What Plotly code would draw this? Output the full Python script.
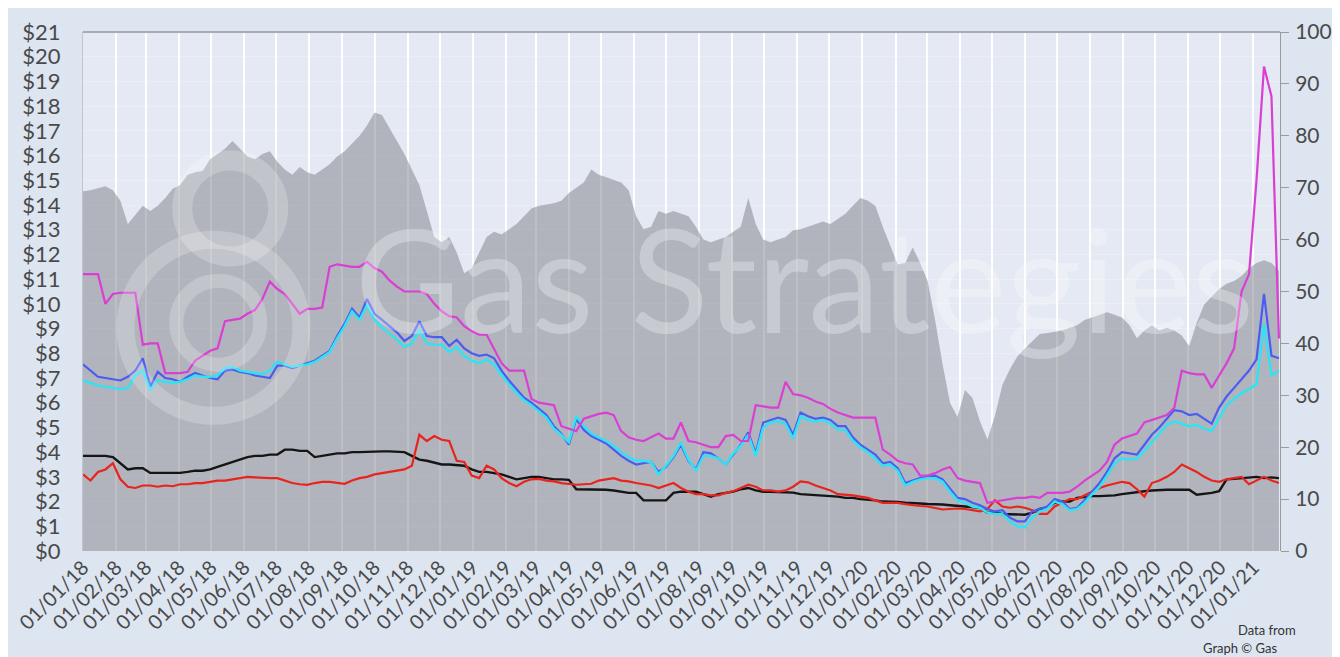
import pandas as pd
import plotly.graph_objects as go

# weekly observation dates (Mondays) from 1 Jan 2018
dates = pd.date_range("2018-01-01", periods=161, freq="7D")

# grey area - oil price, right axis
oil_price = [
    69.3, 69.5, 69.9, 70.3, 69.5, 67.5, 63.0, 64.8, 66.5, 65.5,
    66.5, 68.0, 69.8, 70.5, 72.5, 73.0, 73.2, 75.5, 76.5, 77.5,
    79.0, 77.5, 76.0, 75.5, 76.5, 77.0, 75.0, 73.5, 72.5, 74.0,
    73.0, 72.5, 73.5, 74.5, 76.0, 77.0, 78.5, 80.0, 82.0, 84.5,
    84.0, 81.5, 79.0, 76.5, 73.5, 70.5, 65.5, 60.5, 59.5, 60.5,
    57.5, 53.5, 54.5, 57.5, 60.5, 61.5, 61.0, 62.0, 63.0, 64.5,
    66.0, 66.5, 66.7, 67.0, 67.5, 69.0, 70.0, 71.0, 73.5, 72.5,
    72.0, 71.5, 71.0, 69.5, 64.5, 62.0, 62.5, 65.5, 65.0, 65.5,
    65.0, 64.5, 62.5, 60.0, 59.5, 60.0, 60.5, 61.5, 62.5, 68.0,
    63.0, 60.0, 59.5, 60.0, 60.5, 61.8, 62.0, 62.5, 63.0, 63.5,
    63.0, 64.0, 65.0, 66.5, 68.0, 67.5, 66.5, 62.5, 59.0, 55.2,
    55.5, 58.5, 55.5, 52.0, 44.5, 36.0, 28.5, 25.8, 31.0, 29.5,
    25.0, 21.5, 26.0, 32.0, 35.0, 37.5, 39.0, 40.5, 41.8, 42.0,
    42.3, 42.5, 43.0, 43.5, 44.5, 45.0, 45.5, 46.0, 45.5, 45.0,
    43.5, 41.0, 42.5, 43.5, 42.5, 43.0, 42.5, 41.5, 39.5, 44.0,
    47.5, 49.0, 50.5, 51.5, 52.0, 53.0, 54.5, 55.5, 56.0, 55.5,
    54.0,
]

magenta_series = [
    11.2, 11.2, 11.2, 10.0, 10.4, 10.45, 10.45, 10.45, 8.35, 8.4,
    8.4, 7.2, 7.2, 7.2, 7.25, 7.7, 7.9, 8.1, 8.2, 9.3,
    9.35, 9.4, 9.6, 9.75, 10.2, 10.9, 10.6, 10.4, 10.0, 9.6,
    9.8, 9.8, 9.85, 11.5, 11.6, 11.55, 11.5, 11.5, 11.7, 11.45,
    11.3, 10.95, 10.7, 10.5, 10.5, 10.5, 10.4, 10.0, 9.7, 9.5,
    9.45, 9.1, 8.9, 8.75, 8.75, 8.2, 7.6, 7.3, 7.3, 7.3,
    6.15, 6.0, 5.95, 5.9, 5.05, 4.95, 4.85, 5.35, 5.45, 5.55,
    5.6, 5.5, 4.85, 4.6, 4.5, 4.45, 4.6, 4.75, 4.55, 4.55,
    5.2, 4.45, 4.4, 4.3, 4.2, 4.2, 4.65, 4.7, 4.45, 4.45,
    5.9, 5.85, 5.8, 5.8, 6.85, 6.35, 6.3, 6.2, 6.05, 5.95,
    5.75, 5.6, 5.5, 5.4, 5.4, 5.4, 5.4, 4.1, 3.9, 3.65,
    3.55, 3.5, 3.05, 3.05, 3.15, 3.3, 3.4, 2.95, 2.85, 2.8,
    2.75, 1.95, 2.0, 2.05, 2.1, 2.15, 2.15, 2.2, 2.15, 2.35,
    2.35, 2.35, 2.4, 2.6, 2.85, 3.05, 3.25, 3.6, 4.3, 4.55,
    4.65, 4.75, 5.2, 5.3, 5.4, 5.5, 5.8, 7.3, 7.2, 7.15,
    7.15, 6.6, 7.1, 7.6, 8.2, 10.5, 11.2, 15.0, 19.6, 18.4,
    8.6,
]

blue_series = [
    7.55, 7.3, 7.05, 7.0, 6.95, 6.9, 7.05, 7.3, 7.8, 6.65,
    7.25, 7.0, 6.95, 6.85, 7.05, 7.2, 7.1, 7.0, 6.95, 7.3,
    7.35, 7.25, 7.2, 7.1, 7.05, 7.0, 7.5, 7.5, 7.4, 7.5,
    7.6, 7.7, 7.9, 8.1, 8.7, 9.2, 9.8, 9.45, 10.2, 9.6,
    9.35, 9.1, 8.85, 8.5, 8.7, 9.3, 8.7, 8.65, 8.65, 8.3,
    8.55, 8.2, 8.0, 7.9, 7.95, 7.8, 7.3, 6.9, 6.55, 6.2,
    6.0, 5.75, 5.5, 5.05, 4.75, 4.3, 5.35, 4.9, 4.65, 4.5,
    4.35, 4.1, 3.85, 3.65, 3.5, 3.55, 3.6, 3.2, 3.4, 3.8,
    4.3, 3.65, 3.3, 4.0, 3.95, 3.75, 3.5, 3.9, 4.3, 4.8,
    3.95, 5.2, 5.3, 5.4, 5.3, 4.7, 5.6, 5.45, 5.35, 5.4,
    5.3, 5.05, 5.05, 4.6, 4.3, 4.1, 3.9, 3.55, 3.6, 3.35,
    2.75, 2.85, 2.95, 3.0, 3.05, 2.9, 2.5, 2.15, 2.1, 1.95,
    1.85, 1.7, 1.6, 1.65, 1.35, 1.2, 1.2, 1.6, 1.7, 1.8,
    2.1, 2.0, 1.7, 1.75, 2.05, 2.4, 2.75, 3.2, 3.75, 4.0,
    3.95, 3.9, 4.3, 4.7, 5.0, 5.35, 5.7, 5.65, 5.5, 5.55,
    5.35, 5.15, 5.8, 6.25, 6.6, 6.95, 7.3, 7.75, 10.4, 7.9,
    7.8,
]

cyan_series = [
    6.9, 6.8, 6.7, 6.65, 6.6, 6.55, 6.6, 7.1, 7.3, 6.5,
    6.9, 6.85, 6.8, 6.85, 6.95, 7.1, 7.05, 7.05, 7.1, 7.4,
    7.45, 7.3, 7.25, 7.2, 7.15, 7.3, 7.65, 7.55, 7.45, 7.5,
    7.55, 7.65, 7.85, 8.05, 8.6, 9.1, 9.7, 9.35, 9.95, 9.35,
    9.05, 8.8, 8.55, 8.25, 8.4, 8.95, 8.4, 8.35, 8.35, 8.05,
    8.25, 7.9, 7.7, 7.6, 7.75, 7.55, 7.1, 6.75, 6.4, 6.1,
    5.9, 5.65, 5.4, 4.95, 4.7, 4.4, 5.45, 5.05, 4.75, 4.6,
    4.45, 4.25, 4.0, 3.8, 3.65, 3.65, 3.6, 3.1, 3.45, 3.85,
    4.4, 3.7, 3.25, 3.85, 3.85, 3.75, 3.5, 3.95, 4.25, 4.7,
    3.85, 5.0, 5.2, 5.25, 5.15, 4.55, 5.45, 5.3, 5.25, 5.3,
    5.15, 4.9, 4.9, 4.45, 4.2, 4.0, 3.75, 3.45, 3.5, 3.25,
    2.65, 2.8, 2.9, 2.95, 2.95, 2.8, 2.4, 2.05, 1.95, 1.8,
    1.75, 1.55, 1.5, 1.5, 1.2, 1.0, 0.95, 1.35, 1.6, 1.7,
    2.0, 1.9, 1.65, 1.7, 1.95, 2.3, 2.6, 3.05, 3.55, 3.75,
    3.7, 3.75, 4.05, 4.4, 4.75, 5.1, 5.25, 5.15, 5.05, 5.1,
    4.95, 4.85, 5.4, 5.9, 6.15, 6.4, 6.55, 6.75, 9.2, 7.1,
    7.3,
]

black_series = [
    3.85, 3.85, 3.85, 3.85, 3.8, 3.55, 3.3, 3.35, 3.35, 3.16,
    3.16, 3.16, 3.16, 3.16, 3.2, 3.25, 3.25, 3.3, 3.4, 3.5,
    3.6, 3.7, 3.8, 3.85, 3.85, 3.9, 3.9, 4.1, 4.1, 4.05,
    4.05, 3.8, 3.85, 3.9, 3.95, 3.95, 4.0, 4.0, 4.02, 4.03,
    4.03, 4.03, 4.03, 4.0, 3.85, 3.7, 3.65, 3.58, 3.5, 3.5,
    3.48, 3.45, 3.3, 3.2, 3.2, 3.15, 3.1, 3.0, 2.9, 2.95,
    3.0, 3.0, 2.95, 2.9, 2.9, 2.88, 2.5, 2.5, 2.5, 2.48,
    2.48, 2.45, 2.4, 2.35, 2.35, 2.05, 2.05, 2.05, 2.05, 2.35,
    2.4, 2.4, 2.4, 2.3, 2.2, 2.3, 2.35, 2.4, 2.5, 2.55,
    2.45, 2.4, 2.4, 2.38, 2.38, 2.36, 2.3, 2.28, 2.25, 2.22,
    2.2, 2.2, 2.15, 2.15, 2.1, 2.08, 2.05, 2.0, 2.0, 1.98,
    1.95, 1.95, 1.92, 1.9, 1.9, 1.88, 1.85, 1.82, 1.8, 1.78,
    1.75, 1.55, 1.55, 1.5, 1.5, 1.48, 1.47, 1.55, 1.7, 1.75,
    1.95, 2.0, 2.0, 2.15, 2.2, 2.22, 2.22, 2.22, 2.25, 2.3,
    2.35, 2.38, 2.42, 2.45, 2.48, 2.48, 2.48, 2.48, 2.48, 2.28,
    2.3, 2.35, 2.42, 2.9, 2.92, 2.95, 3.0, 3.0, 2.95, 2.98,
    2.95,
]

red_series = [
    3.1, 2.85, 3.2, 3.3, 3.55, 2.9, 2.6, 2.55, 2.65, 2.65,
    2.6, 2.65, 2.62, 2.7, 2.7, 2.75, 2.75, 2.8, 2.85, 2.85,
    2.9, 2.95, 3.0, 2.98, 2.95, 2.95, 2.95, 2.85, 2.75, 2.7,
    2.68, 2.75, 2.8, 2.8, 2.75, 2.72, 2.85, 2.95, 3.0, 3.1,
    3.15, 3.2, 3.25, 3.3, 3.45, 4.7, 4.45, 4.65, 4.5, 4.45,
    3.65, 3.6, 3.05, 2.95, 3.45, 3.3, 2.95, 2.75, 2.62, 2.8,
    2.9, 2.92, 2.85, 2.82, 2.75, 2.7, 2.68, 2.7, 2.72, 2.85,
    2.9, 2.95, 2.85, 2.82, 2.75, 2.7, 2.65, 2.55, 2.65, 2.75,
    2.55, 2.4, 2.3, 2.3, 2.25, 2.25, 2.35, 2.42, 2.55, 2.68,
    2.6, 2.45, 2.45, 2.4, 2.45, 2.6, 2.82, 2.78, 2.65, 2.55,
    2.45, 2.3, 2.28, 2.25, 2.2, 2.15, 2.05, 1.95, 1.95, 1.95,
    1.9, 1.85, 1.82, 1.8, 1.75, 1.68, 1.7, 1.72, 1.7, 1.65,
    1.6, 1.7, 2.05, 1.8, 1.75, 1.8, 1.75, 1.65, 1.5, 1.5,
    1.8, 1.95, 2.1, 2.1, 2.25, 2.42, 2.55, 2.65, 2.72, 2.8,
    2.75, 2.5, 2.2, 2.75, 2.85, 3.0, 3.2, 3.5, 3.35, 3.2,
    3.0, 2.85, 2.8, 2.9, 2.95, 3.0, 2.7, 2.85, 3.0, 2.85,
    2.75,
]

left_ticks = list(range(0, 22))
left_tick_labels = ["$" + str(v) for v in left_ticks]
right_ticks = list(range(0, 101, 10))

FONT = "Lato"
TXT = "#4a4a4a"

fig = go.Figure()

# grey area on the primary (right-hand) axis so the price lines draw above it
fig.add_trace(go.Scatter(
    x=dates, y=oil_price, mode="lines", fill="tozeroy",
    line=dict(color="rgba(120,122,128,0.0)", width=0),
    fillcolor="rgba(118,121,128,0.47)", yaxis="y", name="Oil price",
    hoverinfo="skip",
))

line_specs = [
    (black_series, "#151515", 2.4),
    (red_series, "#e8241c", 2.2),
    (blue_series, "#4a5cf2", 2.2),
    (cyan_series, "#2fe3f2", 2.4),
    (magenta_series, "#d93fd2", 2.2),
]
for vals, col, w in line_specs:
    fig.add_trace(go.Scatter(
        x=dates, y=vals, mode="lines", yaxis="y2",
        line=dict(color=col, width=w), hoverinfo="skip",
    ))

fig.update_layout(
    width=1340, height=657,
    margin=dict(l=75, r=68, t=24, b=114, autoexpand=False),
    paper_bgcolor="#dde5f1",
    plot_bgcolor="#e4e9f3",
    showlegend=False,
    font=dict(family=FONT, color=TXT),
    xaxis=dict(
        type="date",
        range=["2018-01-01", "2021-01-26"],
        dtick="M1", tick0="2018-01-01",
        tickformat="%d/%m/%y", tickangle=-45,
        tickfont=dict(size=20, family=FONT, color=TXT),
        showgrid=True, gridcolor="rgba(255,255,255,0.95)", gridwidth=1.6,
        showline=False, zeroline=False, ticks="",
        automargin=False,
    ),
    yaxis=dict(
        side="right", range=[0, 100], tickvals=right_ticks,
        tickfont=dict(size=21, family=FONT, color=TXT),
        ticks="outside", ticklen=8, tickcolor="#9a9a9a", tickwidth=1,
        showline=True, linecolor="#9a9a9a", linewidth=1,
        showgrid=False, zeroline=False, ticklabelstandoff=2,
        automargin=False,
    ),
    yaxis2=dict(
        overlaying="y", side="left", range=[0, 21],
        tickvals=left_ticks, ticktext=left_tick_labels,
        tickfont=dict(size=22, family=FONT, color=TXT),
        showgrid=True, gridcolor="rgba(255,255,255,0.25)", gridwidth=1,
        showline=True, linecolor="#c0c4cc", linewidth=1,
        zeroline=False, ticks="", ticklabelstandoff=17,
        automargin=False,
    ),
)

# top border of the plot area
fig.add_shape(type="line", xref="paper", yref="paper", x0=0, x1=1, y0=1, y1=1,
              line=dict(color="#a9abb0", width=2))

# watermark logo rings
ring = "rgba(255,255,255,0.22)"
for cx, cy, r, w in [(0.123, 0.66, 48, 20), (0.109, 0.43, 88, 18), (0.113, 0.44, 42, 14)]:
    fig.add_shape(type="circle", xref="paper", yref="paper",
                  xsizemode="pixel", ysizemode="pixel", xanchor=cx, yanchor=cy,
                  x0=-r, x1=r, y0=-r, y1=r, line=dict(color=ring, width=w))

fig.add_annotation(text="Gas Strategies", xref="paper", yref="paper",
                   x=0.603, y=0.527, xanchor="center", yanchor="middle",
                   showarrow=False,
                   font=dict(family=FONT, size=144, color="rgba(255,255,255,0.30)"))

fig.add_annotation(text="Data from", xref="paper", yref="paper",
                   x=1.0, y=-0.152, xanchor="left", yanchor="middle",
                   xshift=-44, showarrow=False,
                   font=dict(family=FONT, size=13, color="#333333"))
fig.add_annotation(text="Graph © Gas", xref="paper", yref="paper",
                   x=1.0, y=-0.186, xanchor="left", yanchor="middle",
                   xshift=-79, showarrow=False,
                   font=dict(family=FONT, size=13, color="#333333"))

fig.write_html("out.html")
